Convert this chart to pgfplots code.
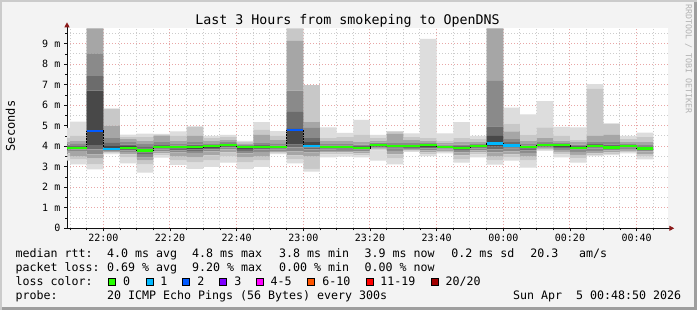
\documentclass[border=0pt]{standalone}
\usepackage{fontspec}
\setmainfont{DejaVu Sans Mono}
\usepackage{pgfplots}
\pgfplotsset{compat=1.18}
\usepackage{pgfplotstable}
\usetikzlibrary{arrows.meta}

\definecolor{bgc}{HTML}{F3F3F3}
\definecolor{shadea}{HTML}{CBCBCB}
\definecolor{shadeb}{HTML}{9E9E9E}
\definecolor{mgrid}{HTML}{E8A6A6}
\definecolor{ngrid}{HTML}{CCCCCC}
\definecolor{arrowc}{HTML}{8B1A1A}
\definecolor{axisc}{HTML}{101010}
\definecolor{sA}{HTML}{DDDDDD}
\definecolor{sB}{HTML}{C8C8C8}
\definecolor{sC}{HTML}{A6A6A6}
\definecolor{sD}{HTML}{8A8A8A}
\definecolor{sE}{HTML}{6C6C6C}
\definecolor{sF}{HTML}{484848}
\definecolor{lossz}{HTML}{26FF00}
\definecolor{lossa}{HTML}{00B8FF}
\definecolor{lossb}{HTML}{0059FF}
\definecolor{lossc}{HTML}{7E00FF}
\definecolor{lossd}{HTML}{FF00FF}
\definecolor{losse}{HTML}{FF5500}
\definecolor{lossf}{HTML}{FF0000}
\definecolor{lossg}{HTML}{A10000}

\pgfplotstableread{
x   la   ha   lb   hb   lc   hc   ld   hd   le   he   lf   hf   m
-15 3.30 4.90 3.50 4.40 3.65 4.20 3.78 4.08 3.85 4.00 3.88 3.97 3.93
-10 3.12 5.20 3.35 4.50 3.50 4.25 3.76 4.12 3.85 4.00 3.88 3.96 3.92
-5  2.87 9.75 3.10 9.75 3.40 9.75 3.60 8.53 3.85 7.42 4.06 6.71 4.76
0   3.62 5.83 3.65 5.83 3.70 5.00 3.76 4.40 3.82 4.16 3.85 4.00 3.88
5   3.17 4.57 3.45 4.45 3.60 4.35 3.72 4.20 3.80 4.08 3.86 4.00 3.92
10  2.71 4.62 3.10 4.45 3.30 4.28 3.45 4.10 3.62 3.97 3.70 3.88 3.79
15  3.44 4.60 3.55 4.55 3.65 4.50 3.75 4.20 3.85 4.06 3.90 4.00 3.95
20  3.09 4.73 3.30 4.50 3.50 4.25 3.70 4.10 3.80 4.03 3.88 3.99 3.95
25  2.90 4.97 3.20 4.95 3.45 4.50 3.68 4.20 3.78 4.08 3.85 4.00 3.95
30  3.00 4.50 3.30 4.40 3.55 4.25 3.75 4.10 3.85 4.04 3.92 4.02 4.00
35  3.20 4.55 3.50 4.45 3.70 4.30 3.85 4.20 3.95 4.12 4.00 4.08 4.06
40  2.89 4.26 3.20 4.20 3.45 4.12 3.65 4.05 3.78 4.00 3.87 3.98 3.95
45  3.00 5.18 3.30 4.80 3.50 4.55 3.72 4.15 3.85 4.05 3.92 4.01 3.98
50  3.62 4.74 3.66 4.50 3.70 4.30 3.78 4.12 3.85 4.03 3.90 3.99 3.95
55  3.17 9.75 3.35 9.75 3.55 9.14 3.75 6.71 3.95 5.67 4.08 4.85 4.80
60  2.76 6.98 2.90 6.98 3.50 5.20 3.70 4.90 3.85 4.40 3.95 4.20 4.03
65  3.46 4.92 3.60 4.40 3.70 4.25 3.78 4.10 3.85 4.03 3.90 3.99 3.95
70  3.50 4.65 3.60 4.45 3.70 4.25 3.78 4.10 3.86 4.03 3.90 3.99 3.95
75  3.46 5.28 3.55 4.55 3.65 4.20 3.75 4.08 3.84 4.00 3.88 3.97 3.92
80  3.30 4.55 3.80 4.40 3.85 4.25 3.90 4.18 3.95 4.12 3.98 4.10 4.08
85  3.12 4.74 3.40 4.72 3.60 4.60 3.78 4.15 3.88 4.06 3.95 4.02 4.00
90  3.72 4.63 3.76 4.45 3.80 4.30 3.86 4.15 3.92 4.06 3.96 4.02 4.00
95  3.52 9.23 3.60 4.40 3.70 4.25 3.80 4.15 3.90 4.10 3.96 4.07 4.05
100 3.65 4.63 3.70 4.25 3.76 4.15 3.84 4.08 3.90 4.03 3.94 4.00 3.97
105 3.20 5.18 3.35 4.40 3.55 4.20 3.70 4.08 3.82 4.00 3.87 3.96 3.92
110 3.46 4.50 3.60 4.35 3.70 4.20 3.80 4.10 3.90 4.04 3.93 4.00 4.00
115 3.10 9.75 3.30 9.75 3.50 9.75 3.70 7.19 3.85 4.97 3.98 4.50 4.13
120 3.30 5.88 3.45 5.10 3.60 4.73 3.75 4.35 3.88 4.20 3.95 4.10 4.04
125 2.96 5.55 3.30 4.57 3.50 4.25 3.68 4.10 3.80 4.03 3.88 3.99 3.97
130 3.78 6.20 3.80 4.92 3.85 4.40 3.90 4.20 3.95 4.12 3.99 4.08 4.05
135 3.46 4.95 3.60 4.50 3.72 4.25 3.82 4.15 3.92 4.10 3.97 4.07 4.05
140 3.20 4.92 3.42 4.30 3.58 4.20 3.72 4.08 3.83 4.00 3.88 3.97 3.93
145 3.52 7.03 3.55 6.80 3.65 4.50 3.78 4.24 3.90 4.10 3.95 4.04 4.00
150 3.57 5.12 3.62 5.10 3.70 4.55 3.80 4.24 3.88 4.08 3.92 4.00 3.94
155 3.65 4.50 3.70 4.35 3.78 4.20 3.86 4.10 3.93 4.05 3.96 4.02 4.00
160 3.36 4.66 3.50 4.45 3.62 4.20 3.75 4.05 3.82 3.97 3.86 3.93 3.89
165 3.36 4.66 3.50 4.45 3.62 4.20 3.75 4.05 3.82 3.97 3.86 3.93 3.89
}\smoke

\pgfplotstableread{
x   m
-15 3.93
-10 3.92
5   3.92
10  3.79
15  3.95
20  3.95
25  3.95
30  4.00
35  4.06
40  3.95
45  3.98
50  3.95
65  3.95
70  3.95
75  3.92
80  4.08
85  4.00
90  4.00
95  4.05
100 3.97
105 3.92
110 4.00
125 3.97
130 4.05
135 4.05
140 3.93
145 4.00
150 3.94
155 4.00
160 3.89
}\medgreen

\pgfplotstableread{
x  m
-5 4.76
55 4.80
}\medblue

\pgfplotstableread{
x   m
0   3.88
60  4.03
115 4.13
120 4.04
}\medcyan

\pgfplotsset{
  chartframe/.style={
    at={(67pt,81.7pt)}, anchor=south west,
    scale only axis, width=601.3pt, height=200pt,
    xmin=-10.9, xmax=169.5, ymin=0, ymax=9.75,
  },
  band/.style={const plot, draw=none, fill=#1},
}

\begin{document}
\begin{tikzpicture}
\useasboundingbox (0,0) rectangle (697pt,310pt);
\fill[bgc] (0,0) rectangle (697pt,310pt);
\draw[shadea, line width=2pt] (1pt,0pt) -- (1pt,309pt) -- (697pt,309pt);
\draw[shadeb, line width=3pt] (2pt,1.5pt) -- (695.5pt,1.5pt) -- (695.5pt,308pt);
\begin{axis}[
  chartframe,
  stack plots=y,
  axis lines=left,
  axis line style={draw=axisc, line width=1pt, shorten >=-6pt, -{Triangle[length=5pt,width=5pt,color=arrowc]}},
  axis background/.style={fill=white},
  xtick={0,20,...,160},
  xticklabels={22:00,22:20,22:40,23:00,23:20,23:40,00:00,00:20,00:40},
  minor xtick={-10,-5,...,165},
  ytick={0,1,...,9},
  yticklabels={0,1 m,2 m,3 m,4 m,5 m,6 m,7 m,8 m,9 m},
  minor ytick={0.5,1.5,...,9.5},
  grid=both,
  major grid style={draw=mgrid, line width=1pt, dash pattern=on 1pt off 2pt},
  minor grid style={draw=ngrid, line width=1pt, dash pattern=on 1pt off 2pt},
  tick align=outside,
  major tick length=3pt, minor tick length=2pt,
  tick style={draw=axisc, line width=0.8pt},
  ticklabel style={font=\fontsize{10}{12}\selectfont, text=black, inner sep=0pt},
  xticklabel style={yshift=-3pt},
  yticklabel style={xshift=-3.5pt},
]
\addplot[const plot, draw=none] table[x=x,y=la]{\smoke};
\addplot[band=sA] table[x=x,y expr=\thisrow{lb}-\thisrow{la}]{\smoke} \closedcycle;
\addplot[band=sB] table[x=x,y expr=\thisrow{lc}-\thisrow{lb}]{\smoke} \closedcycle;
\addplot[band=sC] table[x=x,y expr=\thisrow{ld}-\thisrow{lc}]{\smoke} \closedcycle;
\addplot[band=sD] table[x=x,y expr=\thisrow{le}-\thisrow{ld}]{\smoke} \closedcycle;
\addplot[band=sE] table[x=x,y expr=\thisrow{lf}-\thisrow{le}]{\smoke} \closedcycle;
\addplot[band=sF] table[x=x,y expr=\thisrow{hf}-\thisrow{lf}]{\smoke} \closedcycle;
\addplot[band=sE] table[x=x,y expr=\thisrow{he}-\thisrow{hf}]{\smoke} \closedcycle;
\addplot[band=sD] table[x=x,y expr=\thisrow{hd}-\thisrow{he}]{\smoke} \closedcycle;
\addplot[band=sC] table[x=x,y expr=\thisrow{hc}-\thisrow{hd}]{\smoke} \closedcycle;
\addplot[band=sB] table[x=x,y expr=\thisrow{hb}-\thisrow{hc}]{\smoke} \closedcycle;
\addplot[band=sA] table[x=x,y expr=\thisrow{ha}-\thisrow{hb}]{\smoke} \closedcycle;
\end{axis}
\begin{axis}[chartframe, axis lines=none]
% median step line
\addplot[const plot, draw=black, line width=0.6pt, densely dotted, mark=none] table[x=x,y=m]{\smoke};
% loss-coloured median segments
\addplot[lossz, line width=2.2pt, mark=none, quiver={u=5, v=0}] table[x=x,y=m]{\medgreen};
\addplot[lossb, line width=2.2pt, mark=none, quiver={u=5, v=0}] table[x=x,y=m]{\medblue};
\addplot[lossa, line width=2.2pt, mark=none, quiver={u=5, v=0}] table[x=x,y=m]{\medcyan};
\end{axis}
\node[anchor=base, inner sep=0pt, font=\fontsize{13.3}{15}\selectfont] at (347.5pt,285.7pt) {Last 3 Hours from smokeping to OpenDNS};
\node[rotate=90, inner sep=0pt, font=\fontsize{12}{14}\selectfont] at (10.3pt,184pt) {Seconds};
\node[rotate=-90, inner sep=0pt, text=black!30, font=\fontsize{8.3}{10}\selectfont] at (688.5pt,251pt) {RRDTOOL / TOBI OETIKER};
\begin{scope}[every node/.style={anchor=base west, inner sep=0pt, font=\fontsize{11.63}{14}\selectfont}]
\node at (15.5pt,52pt) {median rtt:};
\node at (106.8pt,52pt) {4.0 ms avg};
\node at (191.8pt,52pt) {4.8 ms max};
\node at (278.8pt,52pt) {3.8 ms min};
\node at (364.5pt,52pt) {3.9 ms now};
\node at (451.2pt,52pt) {0.2 ms sd};
\node at (530.2pt,52pt) {20.3};
\node at (578.8pt,52pt) {am/s};
\node at (15.5pt,38pt) {packet loss:};
\node at (106.8pt,38pt) {0.69 \% avg};
\node at (191.8pt,38pt) {9.20 \% max};
\node at (278.8pt,38pt) {0.00 \% min};
\node at (364.5pt,38pt) {0.00 \% now};
\node at (15.5pt,24pt) {loss color:};
\node at (122.8pt,24pt) {0};
\node at (160.2pt,24pt) {1};
\node at (197.2pt,24pt) {2};
\node at (234.2pt,24pt) {3};
\node at (270.5pt,24pt) {4-5};
\node at (322.2pt,24pt) {6-10};
\node at (380.2pt,24pt) {11-19};
\node at (445.5pt,24pt) {20/20};
\node at (15.5pt,10pt) {probe:};
\node at (106.8pt,10pt) {20 ICMP Echo Pings (56 Bytes) every 300s};
\node at (512.8pt,10pt) {Sun Apr\ \ 5 00:48:50 2026};
\end{scope}
\begin{scope}[draw=black, line width=0.8pt]
\filldraw[fill=lossz] (108.7pt,24.3pt) rectangle ++(7pt,7pt);
\filldraw[fill=lossa] (146.1pt,24.3pt) rectangle ++(7pt,7pt);
\filldraw[fill=lossb] (182.7pt,24.3pt) rectangle ++(7pt,7pt);
\filldraw[fill=lossc] (219.4pt,24.3pt) rectangle ++(7pt,7pt);
\filldraw[fill=lossd] (256.4pt,24.3pt) rectangle ++(7pt,7pt);
\filldraw[fill=losse] (307.7pt,24.3pt) rectangle ++(7pt,7pt);
\filldraw[fill=lossf] (366.1pt,24.3pt) rectangle ++(7pt,7pt);
\filldraw[fill=lossg] (431.1pt,24.3pt) rectangle ++(7pt,7pt);
\end{scope}
\end{tikzpicture}
\end{document}
